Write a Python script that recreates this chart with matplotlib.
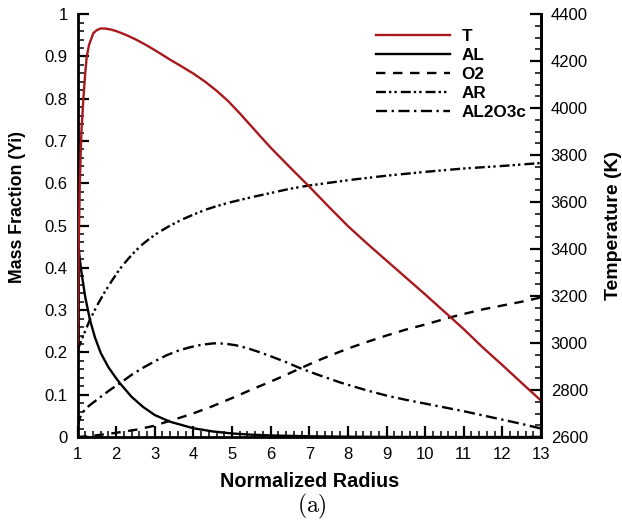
import matplotlib
matplotlib.use("Agg")
import matplotlib.pyplot as plt
from matplotlib.ticker import MultipleLocator

plt.rcParams['font.family'] = ['Liberation Sans', 'DejaVu Sans']
plt.rcParams['mathtext.fontset'] = 'cm'

# ---- data ----
x_T = [1.0, 1.03, 1.06, 1.1, 1.15, 1.2, 1.24, 1.3, 1.41, 1.5, 1.6, 1.7, 1.85, 2.0, 2.25, 2.5, 2.75,
       3.0, 3.4, 3.7, 4.0, 4.3, 4.6, 4.9, 5.2, 5.5, 5.75, 6.0, 6.5, 7.0, 7.5, 8.0, 8.5, 9.0, 9.5, 10.0,
       10.65, 11.0, 11.5, 12.0, 12.5, 13.0]
T = [2996, 3410, 3680, 3896, 4035, 4148, 4220, 4270, 4319, 4332, 4339, 4339, 4335, 4328, 4312, 4293, 4271,
     4247, 4206, 4177, 4147, 4113, 4074, 4030, 3978, 3923, 3877, 3832, 3748, 3666, 3581, 3498, 3423, 3351,
     3279, 3207, 3111, 3059, 2980, 2906, 2830, 2755]

x_AL = [1.0, 1.1, 1.2, 1.32, 1.45, 1.6, 1.8, 2.0, 2.1, 2.4, 2.7, 3.0, 3.4, 4.0, 4.5, 5.0, 5.5, 6.0,
        7.0, 8.0, 9.0, 10.0, 11.0, 12.0, 13.0]
AL = [0.468, 0.391, 0.331, 0.278, 0.236, 0.199, 0.165, 0.139, 0.127, 0.095, 0.071, 0.052, 0.036, 0.0207,
      0.0132, 0.0084, 0.0055, 0.0037, 0.0017, 0.0007, 0.0003, 0.0001, 0.0, 0.0, 0.0]

x_O2 = [1.0, 1.3, 1.58, 2.0, 2.5, 2.96, 3.31, 3.7, 4.0, 4.5, 5.0, 5.5, 6.0, 6.4, 6.76, 7.2, 7.8, 8.06,
        8.5, 9.0, 9.5, 10.0, 10.65, 11.0, 11.5, 12.0, 12.5, 13.0]
O2 = [0.0, 0.002, 0.005, 0.01, 0.017, 0.026, 0.036, 0.047, 0.056, 0.073, 0.092, 0.112, 0.131, 0.147,
      0.162, 0.18, 0.202, 0.211, 0.225, 0.24, 0.254, 0.266, 0.283, 0.291, 0.302, 0.311, 0.32, 0.33]

x_AR = [1.0, 1.15, 1.32, 1.5, 1.7, 1.9, 2.1, 2.3, 2.5, 2.7, 2.88, 3.1, 3.4, 3.7, 4.0, 4.3, 4.6, 5.0,
        5.5, 6.0, 6.5, 6.94, 7.5, 8.06, 9.0, 10.0, 11.0, 12.0, 13.0]
AR = [0.205, 0.240, 0.277, 0.310, 0.342, 0.371, 0.398, 0.420, 0.440, 0.457, 0.470, 0.484, 0.500, 0.514,
      0.526, 0.537, 0.546, 0.556, 0.567, 0.577, 0.587, 0.594, 0.601, 0.608, 0.618, 0.627, 0.635, 0.641, 0.648]

x_AC = [1.0, 1.06, 1.15, 1.3, 1.5, 1.7, 1.9, 2.1, 2.4, 2.7, 3.0, 3.3, 3.6, 3.9, 4.2, 4.52, 4.8,
        5.1, 5.4, 5.7, 6.0, 6.4, 6.76, 7.2, 7.8, 8.5, 9.0, 9.5, 10.0, 10.39, 11.0, 11.5, 12.0, 12.5, 13.0]
AL2O3c = [0.025, 0.045, 0.060, 0.074, 0.088, 0.102, 0.115, 0.127, 0.147, 0.164, 0.179, 0.193, 0.204, 0.212,
          0.218, 0.2215, 0.221, 0.217, 0.210, 0.201, 0.191, 0.177, 0.163, 0.148, 0.129, 0.110, 0.098,
          0.088, 0.079, 0.072, 0.061, 0.051, 0.041, 0.031, 0.020]

x_ticks = list(range(1, 14))
y_ticks = [0, 0.1, 0.2, 0.3, 0.4, 0.5, 0.6, 0.7, 0.8, 0.9, 1]
y_tick_labels = ['0', '0.1', '0.2', '0.3', '0.4', '0.5', '0.6', '0.7', '0.8', '0.9', '1']
t_ticks = [2600, 2800, 3000, 3200, 3400, 3600, 3800, 4000, 4200, 4400]

red = '#a8191e'
lw = 1.7

fig = plt.figure(figsize=(6.22, 5.24), dpi=100)
ax = fig.add_axes([0.1246, 0.166, 0.7452, 0.807])
ax2 = ax.twinx()

l_AL, = ax.plot(x_AL, AL, color='black', lw=lw, label='AL')
l_O2, = ax.plot(x_O2, O2, color='black', lw=lw, linestyle=(0, (4.0, 3.2)), label='O2')
l_AR, = ax.plot(x_AR, AR, color='black', lw=lw, linestyle=(0, (4.2, 1.3, 1.0, 1.3, 1.0, 1.7)), label='AR')
l_AC, = ax.plot(x_AC, AL2O3c, color='black', lw=lw, linestyle=(0, (4.7, 1.9, 1.0, 1.9)), label='AL2O3c')
l_T, = ax2.plot(x_T, T, color=red, lw=lw, label='T')

ax.set_xlim(1, 13)
ax.set_ylim(0, 1)
ax2.set_ylim(2600, 4400)
ax.set_xticks(x_ticks)
ax.set_yticks(y_ticks)
ax.set_yticklabels(y_tick_labels)
ax2.set_yticks(t_ticks)
ax.xaxis.set_minor_locator(MultipleLocator(0.2))
ax.yaxis.set_minor_locator(MultipleLocator(0.02))
ax2.yaxis.set_minor_locator(MultipleLocator(50))

for a in (ax, ax2):
    a.spines['top'].set_visible(False)
    for s in ('left', 'right', 'bottom'):
        a.spines[s].set_linewidth(2.0)
    a.tick_params(which='major', direction='in', length=8, width=1.6, labelsize=12, pad=7)
    a.tick_params(which='minor', direction='in', length=4.5, width=1.1)
ax.tick_params(axis='y', right=False)
ax.tick_params(axis='x', top=False, pad=7)
ax2.spines['left'].set_visible(False)
ax2.spines['bottom'].set_visible(False)

ax.set_xlabel('Normalized Radius', fontsize=14.3, fontweight='bold')
ax.xaxis.set_label_coords(0.5, -0.083)
ax.set_ylabel('Mass Fraction (Yi)', fontsize=12.8, fontweight='bold')
ax.yaxis.set_label_coords(-0.112, 0.544)
ax2.set_ylabel('Temperature (K)', fontsize=14, fontweight='bold')
ax2.yaxis.set_label_coords(1.138, 0.5)

fig.text(0.502, 0.034, r'$\mathrm{(a)}$', fontsize=17, ha='center', va='center')

leg = ax.legend(handles=[l_T, l_AL, l_O2, l_AR, l_AC], loc='upper left',
                bbox_to_anchor=(0.625, 0.985), frameon=False, borderpad=0,
                handlelength=4.33, handletextpad=0.7, labelspacing=0.23,
                prop={'weight': 'bold', 'size': 12.3})

fig.savefig('out.png', dpi=100)
